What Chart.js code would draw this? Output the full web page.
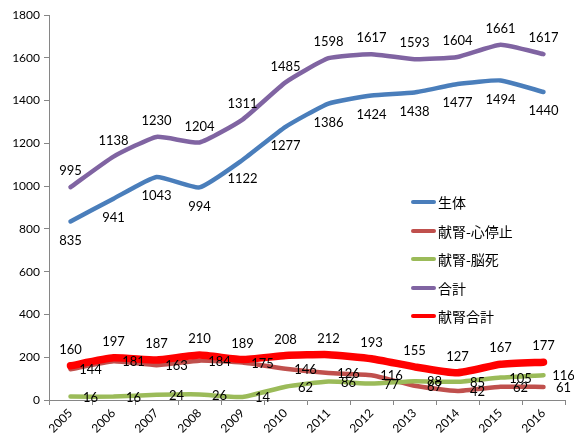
<!DOCTYPE html>
<html>
<head>
<meta charset="utf-8">
<script src="https://cdn.jsdelivr.net/npm/chart.js@4.4.0/dist/chart.umd.min.js"></script>
<style>
  body { margin: 0; background: #fff; }
  .wrap { position: relative; width: 574px; height: 443px; }
  .legend { position: absolute; left: 411px; top: 188px; font-family: "Noto Sans CJK JP", sans-serif; font-size: 14px; color: #000; }
  .legend div { height: 28.5px; display: flex; align-items: center; }
  .legend span.ln { display: inline-block; width: 25px; height: 4px; border-radius: 2px; margin-right: 2px; }
</style>
</head>
<body>
<div class="wrap">
  <canvas id="c" width="574" height="443"></canvas>
  <div class="legend" id="legend"></div>
</div>
<script>
// data
const years = ['2005','2006','2007','2008','2009','2010','2011','2012','2013','2014','2015','2016'];
const seiTai = [835, 941, 1043, 994, 1122, 1277, 1386, 1424, 1438, 1477, 1494, 1440];
const shinTeishi = [144, 181, 163, 184, 175, 146, 126, 116, 67, 42, 62, 61];
const noushi = [16, 16, 24, 26, 14, 62, 86, 77, 88, 85, 105, 116];
const goukei = [995, 1138, 1230, 1204, 1311, 1485, 1598, 1617, 1593, 1604, 1661, 1617];
const kenjinGoukei = [160, 197, 187, 210, 189, 208, 212, 193, 155, 127, 167, 177];

const names = ['生体', '献腎-心停止', '献腎-脳死', '合計', '献腎合計'];
const colors = ['#4A7EBB', '#C0504D', '#9BBB59', '#8064A2', '#FF0000'];
const widths = [4.5, 4.5, 4.5, 4.5, 7.5];
// where the value label sits
const labelPos = ['below', 'right', 'right', 'above', 'above'];

const series = [seiTai, shinTeishi, noushi, goukei, kenjinGoukei];

// legend in html
let legend = document.getElementById('legend');
names.forEach((n, i) => {
    let row = document.createElement('div');
    let ln = document.createElement('span');
    ln.className = 'ln';
    ln.style.background = colors[i];
    row.appendChild(ln);
    row.appendChild(document.createTextNode(n));
    legend.appendChild(row);
});

// value labels
const valueLabels = {
    id: 'valueLabels',
    afterDatasetsDraw(chart) {
        let ctx = chart.ctx;
        ctx.save();
        ctx.font = '13px Lato, "Liberation Sans", sans-serif';
        ctx.fillStyle = '#000';
        ctx.textAlign = 'center';
        ctx.textBaseline = 'middle';
        chart.data.datasets.forEach((ds, i) => {
            let meta = chart.getDatasetMeta(i);
            meta.data.forEach((pt, j) => {
                let x = pt.x, y = pt.y;
                let pos = labelPos[i];
                if (pos === 'above') y -= 16;
                else if (pos === 'below') y += 19;
                else if (pos === 'right') { x += 20; y += 1; }
                ctx.fillText(ds.data[j], x, y);
            });
        });
        ctx.restore();
    }
};

let datasets = series.map((d, i) => ({
    label: names[i],
    data: d,
    borderColor: colors[i],
    backgroundColor: colors[i],
    borderWidth: widths[i],
    pointRadius: 0,
    tension: 0.15,
    borderCapStyle: 'round',
    borderJoinStyle: 'round',
    order: 4 - i
}));

new Chart(document.getElementById('c').getContext('2d'), {
    type: 'line',
    data: { labels: years, datasets: datasets },
    options: {
        responsive: false,
        animation: false,
        layout: { padding: { top: 15, right: 9, left: 0, bottom: 0 } },
        plugins: {
            legend: { display: false },
            tooltip: { enabled: false }
        },
        scales: {
            x: {
                offset: true,
                grid: { display: true, drawOnChartArea: false, offset: true, tickLength: 5, color: '#868686' },
                border: { color: '#868686' },
                ticks: {
                    maxRotation: 45, minRotation: 45,
                    color: '#000',
                    font: { family: 'Lato, "Liberation Sans", sans-serif', size: 12 },
                    padding: 1
                },
                afterFit(scale) { scale.height = 43; }
            },
            y: {
                min: 0, max: 1800,
                grid: { display: true, drawOnChartArea: false, tickLength: 5, color: '#868686' },
                border: { color: '#868686' },
                ticks: {
                    stepSize: 200,
                    color: '#000',
                    font: { family: 'Lato, "Liberation Sans", sans-serif', size: 12 },
                    padding: 4,
                    callback: v => String(v)
                },
                afterFit(scale) { scale.width = 49; }
            }
        }
    },
    plugins: [valueLabels]
});
</script>
</body>
</html>
